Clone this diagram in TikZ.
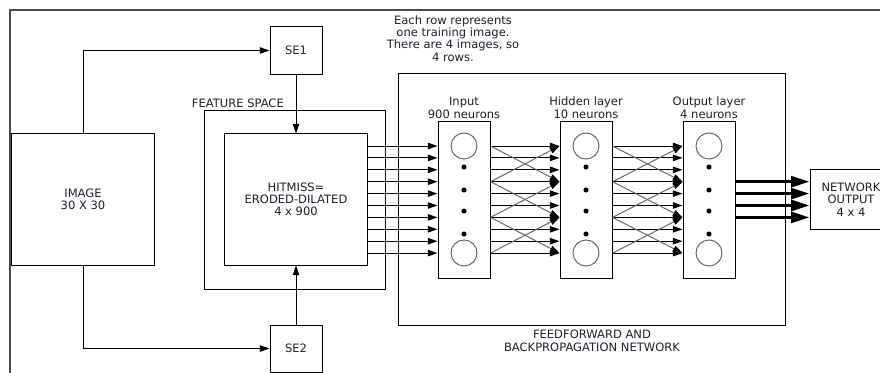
\documentclass[tikz,border=0pt]{standalone}
\usepackage{fontspec}
\setmainfont{DejaVu Sans}
\usetikzlibrary{arrows.meta,positioning}
\definecolor{tinta}{HTML}{1E2030}
\definecolor{gris}{HTML}{666666}

\begin{document}
\begin{tikzpicture}[x=0.025cm,y=-0.025cm,line width=0.7pt,
    >={Triangle[length=2.4mm,width=1.6mm]},
    caja/.style={draw,inner sep=0pt,font=\fontsize{8.2}{8.7}\selectfont,
                 text=tinta,align=center},
    lbl/.style={font=\fontsize{8.2}{8.7}\selectfont,text=tinta,align=center,inner sep=1pt},
    capa/.style={draw,minimum width=1.3cm,minimum height=3.9cm},
    neurona/.style={circle,draw=gris,minimum size=0.65cm,inner sep=0pt},
    cruce/.style={gris,-{Triangle[length=2.4mm,width=1.6mm,color=black]}},
    salida/.style={line width=2.2pt,-{Triangle[length=4.6mm,width=2.7mm]}}]
  \useasboundingbox (0,0) rectangle (880,373);
  \clip (0,0) rectangle (880,373);
  \draw[black!70,line width=1pt] (10,373) -- (10,10) -- (880,10);

  \node[caja,minimum width=3.55cm,minimum height=3.275cm] (img) at (83,199.5) {IMAGE\\30 X 30};
  \node[caja,minimum width=1.3cm,minimum height=1.175cm] (se1) at (296,50.5) {SE1};
  \node[caja,minimum width=1.3cm,minimum height=1.175cm] (se2) at (296,348.5) {SE2};
  \node[draw,minimum width=4.5cm,minimum height=4.45cm] (fspace) at (295,200) {};
  \node[lbl,anchor=west] (fslbl) at (190,103) {FEATURE SPACE};
  \node[caja,fill=white,minimum width=3.55cm,minimum height=3.275cm] (hitmiss) at (296,199.5)
        {HITMISS=\\ERODED-DILATED\\4 x 900};

  \draw[->] (img.north) |- (se1.west);
  \draw[->] (img.south) |- (se2.west);
  \draw[->] (se1.south) -- (hitmiss.north);
  \draw[->] (se2.north) -- (hitmiss.south);

  \node[lbl] (nota) at (453,38.5)
        {Each row represents\\one training image.\\There are 4 images, so\\4 rows.};

  \node[draw,minimum width=9.65cm,minimum height=6.275cm] (net) at (592,199.5) {};
  \node[lbl,below=2pt of net] (netlbl) {FEEDFORWARD AND\\BACKPROPAGATION NETWORK};

  \node[capa] (inlay)  at (464,200) {};
  \node[capa] (hidlay) at (586,200) {};
  \node[capa] (outlay) at (709,200) {};
  \node[lbl,above=1pt of inlay]  (inlbl)  {Input\\900 neurons};
  \node[lbl,above=1pt of hidlay] (hidlbl) {Hidden layer\\10 neurons};
  \node[lbl,above=1pt of outlay] (outlbl) {Output layer\\4 neurons};

  \foreach \L in {inlay,hidlay,outlay}{
    \node[neurona] (\L-top) at (\L |- 0,146) {};
    \node[neurona] (\L-bot) at (\L |- 0,253) {};
    \foreach \d in {167,190,211,234}
      \fill (\L |- 0,\d) circle (1.8pt);
  }

  \node[caja,minimum width=2.05cm,minimum height=1.475cm] (netout) at (851,199.5)
        {NETWORK\\OUTPUT\\4 x 4};

  \foreach \i in {0,...,9}{
    \pgfmathsetmacro{\r}{146+11.9*\i}
    \draw[->] (hitmiss.east |- 0,\r) -- (inlay.west |- 0,\r);
    \draw[->] (inlay.east |- 0,\r) -- (hidlay.west |- 0,\r);
    \draw[->] (hidlay.east |- 0,\r) -- (outlay.west |- 0,\r);
  }
  \foreach \a/\b in {146/181.7,181.7/146,181.7/217.4,217.4/181.7,217.4/253.1,253.1/217.4}{
    \draw[cruce] (inlay.east |- 0,\a) -- (hidlay.west |- 0,\b);
    \draw[cruce] (hidlay.east |- 0,\a) -- (outlay.west |- 0,\b);
  }
  \foreach \r in {181.7,193.6,205.5,217.4}
    \draw[salida] (outlay.east |- 0,\r) -- (netout.west |- 0,\r);
\end{tikzpicture}
\end{document}
